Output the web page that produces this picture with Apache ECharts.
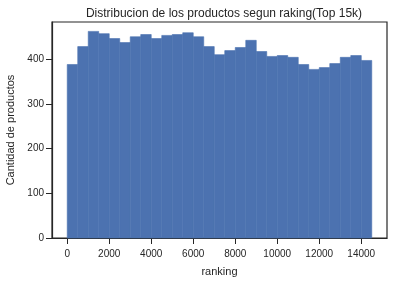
<!DOCTYPE html>
<html><head><meta charset="utf-8">
<script src="https://cdn.jsdelivr.net/npm/echarts@6/dist/echarts.min.js"></script>
<style>html,body{margin:0;padding:0;background:#fff}#c{width:398px;height:281px}</style>
</head><body><div id="c"></div>
<script>
const binStart = 0;
const binWidth = 500;
const counts = [388, 428, 462, 457, 446, 437, 450, 455, 446, 453, 455, 459, 450, 428, 410,
  419, 426, 442, 417, 406, 408, 404, 388, 377, 381, 390, 404, 408, 397];
const xTicks = [0, 2000, 4000, 6000, 8000, 10000, 12000, 14000];
const yTicks = [0, 100, 200, 300, 400];
const titleText = 'Distribucion de los productos segun raking(Top 15k)';
const xName = 'ranking';
const yName = 'Cantidad de productos';

const data = counts.map((c, i) => [binStart + i * binWidth, binStart + (i + 1) * binWidth, c]);
const dark = '#262626';
const font = 'Liberation Sans, Arial, sans-serif';

const chart = echarts.init(document.getElementById('c'), null, {renderer: 'canvas'});
chart.setOption({
  animation: false,
  title: {text: titleText, left: 219, top: 3, textAlign: 'center',
    textStyle: {fontFamily: font, fontSize: 12, fontWeight: 'normal', color: dark}},
  grid: {left: 52, right: 11, top: 22, bottom: 43, containLabel: false, outerBoundsMode: 'none',
    show: true, borderColor: dark, borderWidth: 1.2, backgroundColor: 'transparent'},
  xAxis: {type: 'value', min: -725, max: 15225,
    name: xName, nameLocation: 'middle', nameGap: 28,
    nameTextStyle: {fontFamily: font, fontSize: 11, color: dark},
    axisLine: {show: true, onZero: false, lineStyle: {color: dark, width: 1.2}},
    axisTick: {show: true, length: 6, customValues: xTicks, lineStyle: {color: dark, width: 1}},
    axisLabel: {customValues: xTicks, formatter: v => String(v), fontFamily: font, fontSize: 10, color: dark, margin: 11},
    splitLine: {show: false}},
  yAxis: {type: 'value', min: 0, max: 483,
    name: yName, nameLocation: 'middle', nameGap: 36,
    nameTextStyle: {fontFamily: font, fontSize: 11, color: dark},
    axisLine: {show: true, onZero: false, lineStyle: {color: dark, width: 1.2}},
    axisTick: {show: true, length: 6, customValues: yTicks, lineStyle: {color: dark, width: 1}},
    axisLabel: {customValues: yTicks, formatter: v => String(v), fontFamily: font, fontSize: 10, color: dark, margin: 8},
    splitLine: {show: false}},
  series: [{
    type: 'custom',
    data: data,
    encode: {x: [0, 1], y: 2},
    renderItem: function (params, api) {
      const p0 = api.coord([api.value(0), 0]);
      const p1 = api.coord([api.value(1), api.value(2)]);
      return {type: 'rect', shape: {x: p0[0], y: p1[1], width: p1[0] - p0[0], height: p0[1] - p1[1]},
        style: {fill: '#4c72b0', stroke: '#4c72b0', lineWidth: 0.6}};
    }
  }]
});
</script></body></html>
